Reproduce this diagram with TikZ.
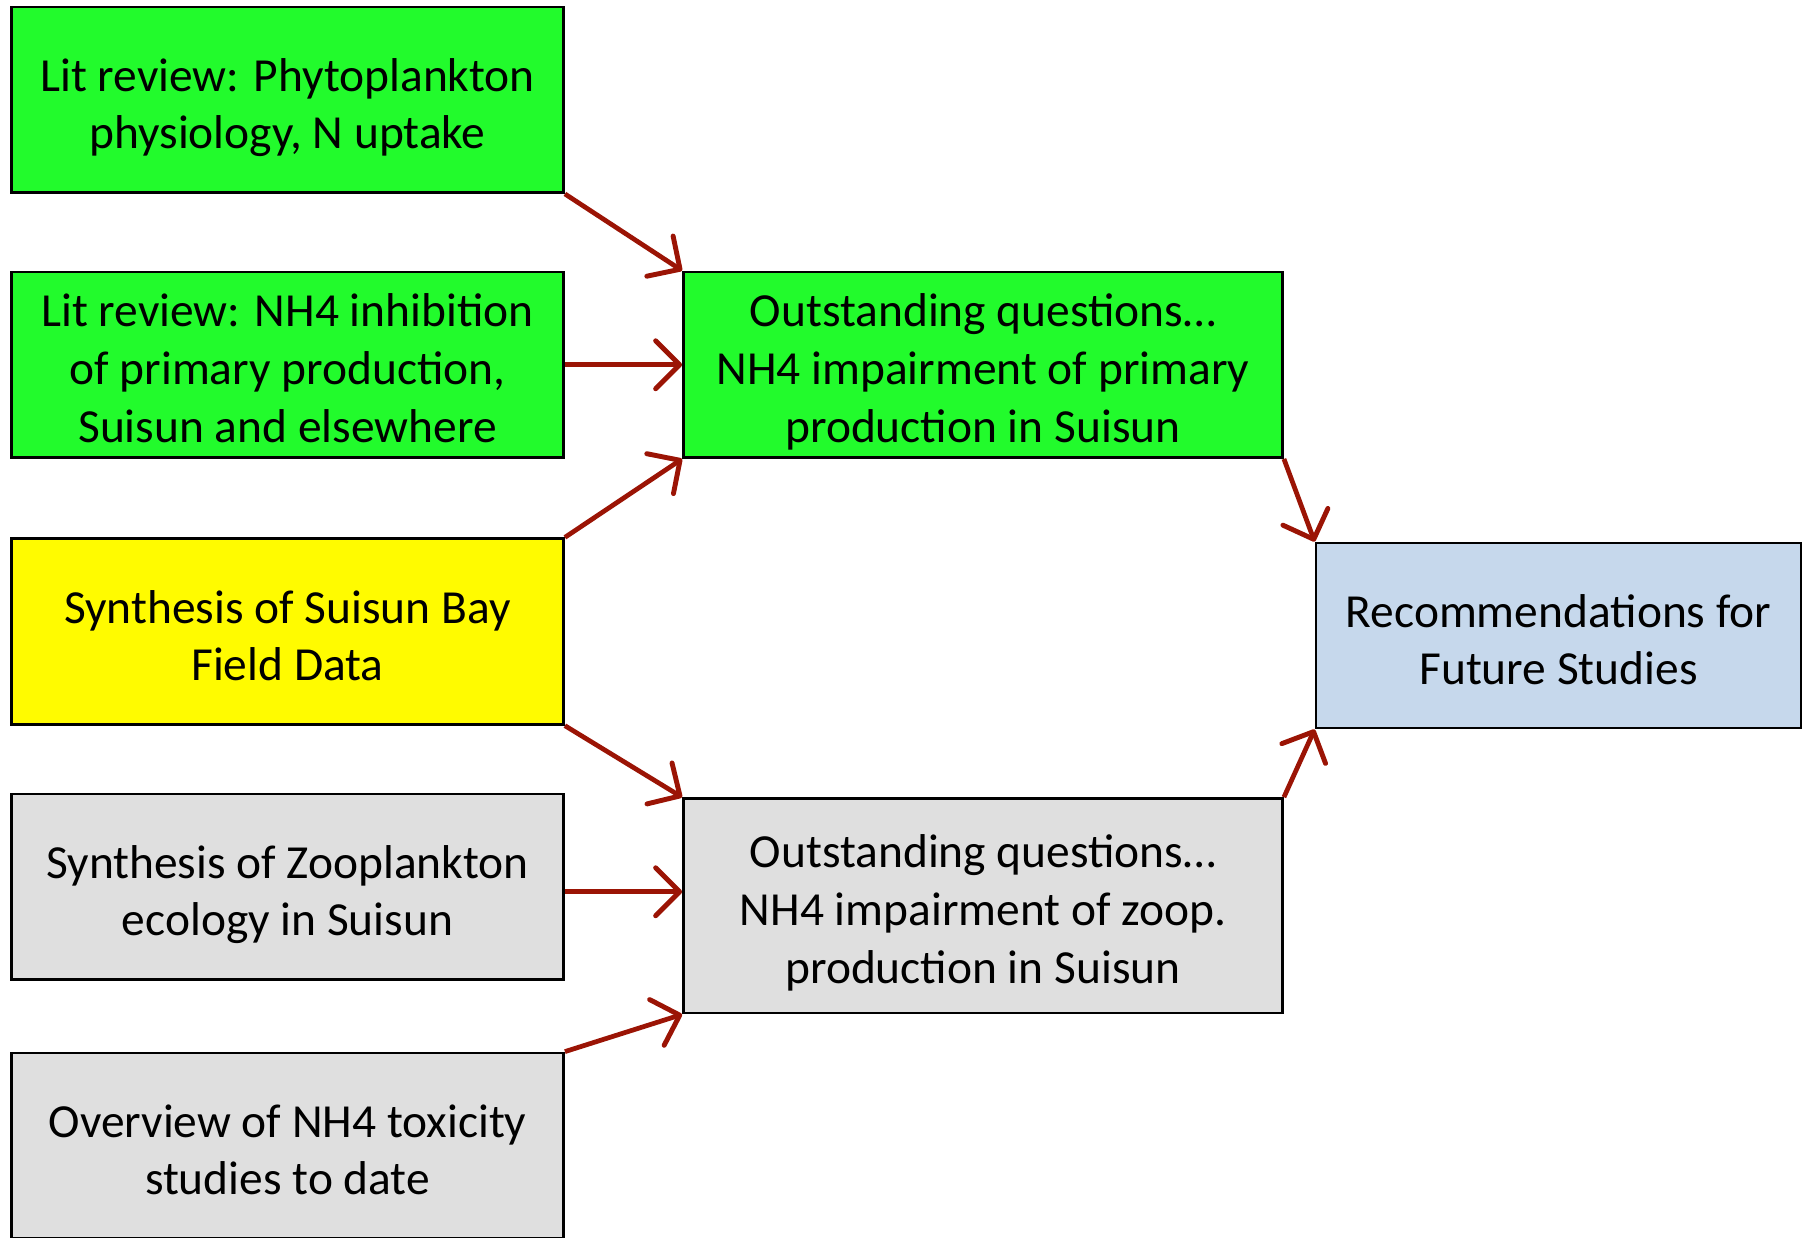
\documentclass[tikz,border=0pt]{standalone}
\usepackage{fontspec}
\setmainfont{Carlito}
\usepackage{xcolor}
\usetikzlibrary{arrows.meta,positioning}

\definecolor{boxgreen}{RGB}{34,251,44}
\definecolor{boxyellow}{RGB}{255,251,0}
\definecolor{boxgray}{RGB}{223,223,223}
\definecolor{boxblue}{RGB}{198,216,236}
\definecolor{arrowred}{RGB}{155,20,5}

\begin{document}
\begin{tikzpicture}[
    >={Straight Barb[length=2.4mm, width=4.8mm, line width=1.4pt, round]},
    box/.style={draw=black, line width=0.8pt, align=center, inner xsep=2pt, inner ysep=0pt,
        font=\fontsize{13.5}{16.4}\selectfont},
    lines2/.style={text height=31.3pt, text depth=3.3pt},
    lines3/.style={text height=47.3pt, text depth=3.3pt},
    srcbox/.style={box, minimum width=5.52cm, minimum height=1.855cm},
    qbox/.style={box, lines3, minimum width=5.99cm},
    flow/.style={->, draw=arrowred, line width=1.35pt}
]
\useasboundingbox (0,0) rectangle (18.07,-12.37);

% source boxes, left column
\node[srcbox, lines2, fill=boxgreen] (lit1) at (2.875,-0.9975) {Lit review: Phytoplankton\\physiology, N uptake};
\node[srcbox, lines3, fill=boxgreen] (lit2) at (2.875,-3.6475) {Lit review: NH4 inhibition\\of primary production,\\Suisun and elsewhere};
\node[srcbox, lines2, fill=boxyellow] (syn) at (2.875,-6.315) {Synthesis of Suisun Bay\\Field Data};
\node[srcbox, lines2, fill=boxgray] (zoo) at (2.875,-8.8675) {Synthesis of Zooplankton\\ecology in Suisun};
\node[srcbox, lines2, fill=boxgray] (tox) at (2.875,-11.4575) {Overview of NH4 toxicity\\studies to date};

% outstanding questions
\node[qbox, fill=boxgreen, minimum height=1.855cm] (qprim) at (9.83,-3.6475) {Outstanding questions\dots\\NH4 impairment of primary\\production in Suisun};
\node[qbox, fill=boxgray, minimum height=2.144cm] (qzoop) at (9.83,-9.058) {Outstanding questions\dots\\NH4 impairment of zoop.\\production in Suisun};

% outcome
\node[box, lines2, fill=boxblue, minimum width=4.85cm, minimum height=1.85cm] (recs) at (15.585,-6.355) {Recommendations for\\Future Studies};

\draw[flow] (lit1.south east) -- (qprim.north west);
\draw[flow] (lit2.east) -- (qprim.west);
\draw[flow] (syn.north east) -- (qprim.south west);
\draw[flow] (syn.south east) -- (qzoop.north west);
\draw[flow] ([yshift=-0.05cm]zoo.east) -- ([yshift=-0.05cm]zoo.east -| qzoop.west);
\draw[flow] (tox.north east) -- (qzoop.south west);
\draw[flow] (qprim.south east) -- (recs.north west);
\draw[flow] (qzoop.north east) -- (recs.south west);
\end{tikzpicture}
\end{document}
